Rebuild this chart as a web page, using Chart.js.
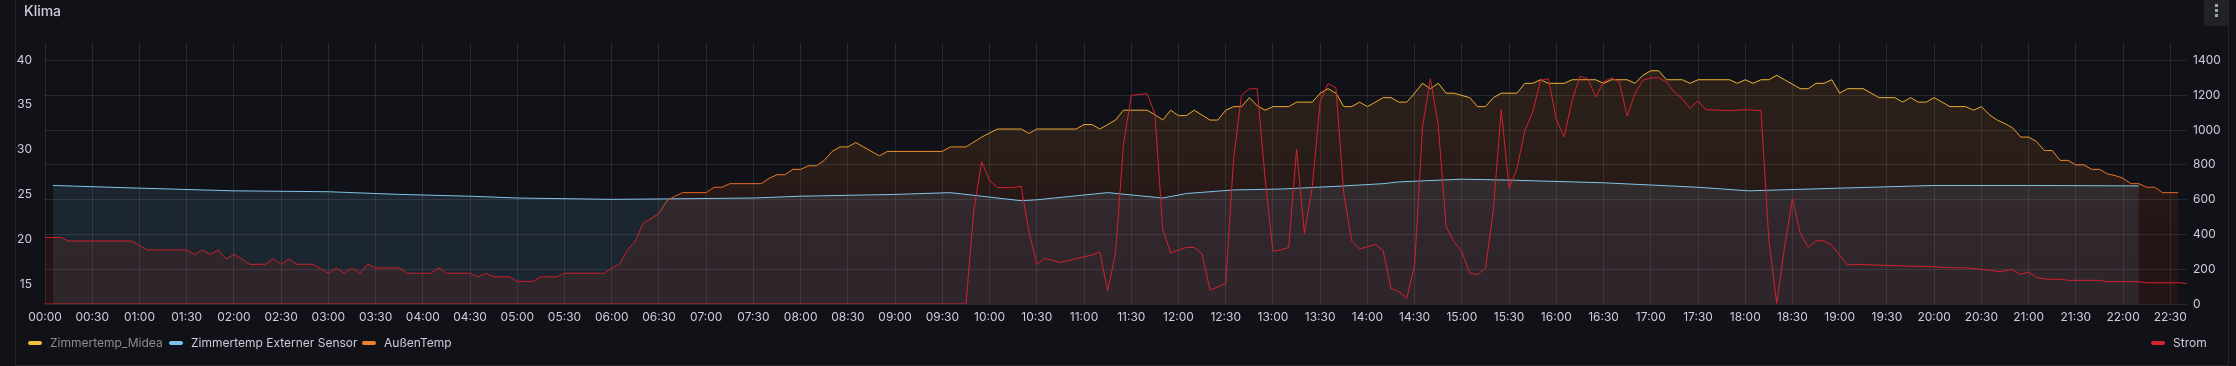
<!DOCTYPE html>
<html>
<head>
<meta charset="utf-8">
<title>Klima</title>
<script src="https://cdn.jsdelivr.net/npm/chart.js@4.4.1/dist/chart.umd.min.js"></script>
<style>
    html, body { margin: 0; padding: 0; background: #111217; width: 2236px; height: 366px; overflow: hidden; font-family: Inter, "Noto Sans", sans-serif; }
    #panel { position: absolute; left: 15px; top: -1px; width: 2214px; height: 367px; border: 1px solid #24262b; box-sizing: border-box; }
    #klimaChart { position: absolute; left: 0; top: 0; }
    .title { position: absolute; left: 24px; top: 3px; font-size: 14px; line-height: 16px; font-weight: 500; color: #ccccdc; }
    .menu { position: absolute; left: 2204px; top: 0; width: 24px; height: 26px; background: #202226; }
    .menu i { position: absolute; left: 11px; width: 3px; height: 3px; background: #9ea3ae; }
    .legend-item { position: absolute; top: 335px; height: 16px; line-height: 16px; font-size: 12px; color: #ccccdc; white-space: nowrap; }
    .legend-item span { display: inline-block; width: 14px; height: 4px; border-radius: 2px; vertical-align: middle; margin-right: 8px; margin-top: -2px; }
    .legend-item.off { color: #8b8c96; }
</style>
</head>
<body>
<div id="panel"></div>
<canvas id="klimaChart" width="2236" height="366"></canvas>
<div class="title">Klima</div>
<div class="menu"><i style="top:4px"></i><i style="top:9px"></i><i style="top:14px"></i></div>

<div class="legend-item off" style="left:28px"><span style="background:#f2c23a"></span>Zimmertemp_Midea</div>
<div class="legend-item" style="left:169px"><span style="background:#80c4e8"></span>Zimmertemp Externer Sensor</div>
<div class="legend-item" style="left:362px"><span style="background:#f0812a"></span>AußenTemp</div>
<div class="legend-item" style="left:2151px"><span style="background:#d4202f"></span>Strom</div>

<script>
// x axis labels (every 30 min)
const timeLabels = ["00:00", "00:30", "01:00", "01:30", "02:00", "02:30", "03:00", "03:30", "04:00", "04:30",
    "05:00", "05:30", "06:00", "06:30", "07:00", "07:30", "08:00", "08:30", "09:00", "09:30",
    "10:00", "10:30", "11:00", "11:30", "12:00", "12:30", "13:00", "13:30", "14:00", "14:30",
    "15:00", "15:30", "16:00", "16:30", "17:00", "17:30", "18:00", "18:30", "19:00", "19:30",
    "20:00", "20:30", "21:00", "21:30", "22:00", "22:30"];
const tempTicks = [15, 20, 25, 30, 35, 40];
const stromTicks = [0, 200, 400, 600, 800, 1000, 1200, 1400];

// Zimmertemp Externer Sensor (°C)
const sensorTimes = ["00:05", "01:00", "02:00", "03:00", "03:45", "04:30", "05:00", "06:00", "06:35", "07:30",
    "08:00", "09:00", "09:35", "10:20", "10:30", "11:15", "11:50", "12:05", "12:35", "13:05",
    "13:40", "14:10", "14:20", "15:00", "15:30", "16:30", "17:00", "17:30", "18:02", "19:00",
    "20:00", "21:00", "22:10"];
const sensorTemp = [26.0, 25.7, 25.4, 25.3, 25.0, 24.8, 24.6, 24.45, 24.5, 24.6,
    24.8, 25.0, 25.2, 24.3, 24.4, 25.2, 24.6, 25.1, 25.5, 25.6,
    25.9, 26.2, 26.4, 26.7, 26.6, 26.3, 26.05, 25.8, 25.4, 25.7,
    26.0, 26.0, 25.95];

// AußenTemp (°C)
const aussenTimes = ["00:00", "00:10", "00:15", "00:55", "01:05", "01:30", "01:35", "01:40", "01:45", "01:50",
    "01:55", "02:00", "02:05", "02:10", "02:20", "02:25", "02:30", "02:35", "02:40", "02:50",
    "03:00", "03:05", "03:10", "03:15", "03:20", "03:25", "03:30", "03:45", "03:50", "04:05",
    "04:10", "04:15", "04:30", "04:35", "04:40", "04:45", "04:55", "05:00", "05:10", "05:15",
    "05:25", "05:30", "05:55", "06:00", "06:05", "06:10", "06:15", "06:20", "06:25", "06:30",
    "06:35", "06:40", "06:45", "07:00", "07:05", "07:10", "07:15", "07:35", "07:40", "07:45",
    "07:50", "07:55", "08:00", "08:05", "08:10", "08:15", "08:20", "08:25", "08:30", "08:35",
    "08:50", "08:55", "09:30", "09:35", "09:45", "09:55", "10:05", "10:20", "10:25", "10:30",
    "10:55", "11:00", "11:05", "11:10", "11:20", "11:25", "11:40", "11:45", "11:50", "11:55",
    "12:00", "12:05", "12:10", "12:20", "12:25", "12:30", "12:35", "12:40", "12:45", "12:50",
    "12:55", "13:00", "13:10", "13:15", "13:25", "13:30", "13:35", "13:40", "13:45", "13:50",
    "13:55", "14:00", "14:10", "14:15", "14:20", "14:25", "14:30", "14:35", "14:40", "14:45",
    "14:50", "14:55", "15:05", "15:10", "15:15", "15:20", "15:25", "15:35", "15:40", "15:45",
    "15:50", "15:55", "16:05", "16:10", "16:25", "16:30", "16:35", "16:45", "16:50", "16:55",
    "17:00", "17:05", "17:10", "17:20", "17:25", "17:30", "17:50", "17:55", "18:00", "18:05",
    "18:10", "18:15", "18:20", "18:25", "18:35", "18:40", "18:45", "18:50", "18:55", "19:00",
    "19:05", "19:15", "19:25", "19:35", "19:40", "19:45", "19:50", "19:55", "20:00", "20:10",
    "20:20", "20:25", "20:30", "20:35", "20:40", "20:45", "20:50", "20:55", "21:00", "21:05",
    "21:10", "21:15", "21:20", "21:25", "21:30", "21:35", "21:40", "21:45", "21:50", "21:55",
    "22:00", "22:05", "22:10", "22:15", "22:20", "22:25", "22:35"];
const aussenTemp = [20.2, 20.2, 19.8, 19.8, 18.8, 18.8, 18.3, 18.8, 18.3, 18.8,
    17.8, 18.3, 17.8, 17.2, 17.2, 17.8, 17.2, 17.8, 17.2, 17.2,
    16.2, 16.8, 16.2, 16.8, 16.2, 17.2, 16.8, 16.8, 16.2, 16.2,
    16.8, 16.2, 16.2, 15.8, 16.2, 15.8, 15.8, 15.3, 15.3, 15.8,
    15.8, 16.2, 16.2, 16.8, 17.2, 18.8, 19.8, 21.8, 22.3, 22.9,
    24.3, 24.8, 25.2, 25.2, 25.8, 25.8, 26.2, 26.2, 26.8, 27.2,
    27.2, 27.8, 27.8, 28.2, 28.2, 28.8, 29.8, 30.3, 30.3, 30.8,
    29.3, 29.8, 29.8, 30.3, 30.3, 31.4, 32.3, 32.3, 31.8, 32.3,
    32.3, 32.8, 32.8, 32.3, 33.3, 34.4, 34.4, 33.9, 33.3, 34.4,
    33.8, 33.8, 34.4, 33.3, 33.3, 34.4, 34.8, 34.8, 35.8, 34.9,
    34.4, 34.8, 34.8, 35.3, 35.3, 36.3, 36.8, 36.3, 34.8, 34.8,
    35.3, 34.8, 35.8, 35.8, 35.3, 35.3, 36.3, 37.4, 36.8, 37.4,
    36.3, 36.3, 35.8, 34.8, 34.8, 35.8, 36.3, 36.3, 37.4, 37.4,
    37.8, 37.4, 37.4, 37.8, 37.8, 37.4, 37.8, 37.8, 37.4, 38.3,
    38.8, 38.8, 37.8, 37.8, 37.4, 37.8, 37.8, 37.4, 37.8, 37.4,
    37.8, 37.8, 38.3, 37.8, 36.8, 36.8, 37.4, 37.4, 37.8, 36.3,
    36.8, 36.8, 35.8, 35.8, 35.3, 35.8, 35.3, 35.3, 35.8, 34.8,
    34.8, 34.4, 34.8, 33.9, 33.3, 32.9, 32.4, 31.4, 31.4, 30.9,
    29.9, 29.9, 28.8, 28.8, 28.3, 28.3, 27.8, 27.8, 27.3, 27.1,
    26.8, 26.2, 26.2, 25.8, 25.8, 25.2, 25.2];

// Strom (W), right axis
const stromTimes = ["00:00", "09:45", "09:50", "09:55", "10:00", "10:05", "10:15", "10:20", "10:25", "10:30",
    "10:35", "10:45", "11:00", "11:05", "11:10", "11:15", "11:20", "11:25", "11:30", "11:40",
    "11:45", "11:50", "11:55", "12:05", "12:10", "12:15", "12:20", "12:25", "12:30", "12:35",
    "12:40", "12:45", "12:50", "12:55", "13:00", "13:05", "13:10", "13:15", "13:20", "13:25",
    "13:30", "13:35", "13:40", "13:45", "13:50", "13:55", "14:05", "14:10", "14:15", "14:20",
    "14:25", "14:30", "14:35", "14:40", "14:45", "14:50", "14:55", "15:00", "15:05", "15:10",
    "15:15", "15:20", "15:25", "15:30", "15:35", "15:40", "15:45", "15:50", "15:55", "16:00",
    "16:05", "16:10", "16:15", "16:20", "16:25", "16:30", "16:35", "16:40", "16:45", "16:50",
    "16:55", "17:00", "17:05", "17:10", "17:15", "17:20", "17:25", "17:30", "17:35", "17:50",
    "18:00", "18:10", "18:15", "18:20", "18:25", "18:30", "18:35", "18:40", "18:45", "18:50",
    "18:55", "19:05", "19:10", "19:35", "20:00", "20:10", "20:20", "20:30", "20:35", "20:42",
    "20:49", "20:55", "21:00", "21:05", "21:12", "21:21", "21:25", "21:45", "21:50", "22:10",
    "22:15", "22:36", "22:41"];
const stromWatt = [0, 0, 539, 818, 711, 669, 669, 677, 415, 228,
    262, 239, 272, 281, 300, 76, 291, 912, 1199, 1209,
    1094, 428, 294, 325, 325, 287, 80, 99, 119, 836,
    1199, 1237, 1237, 721, 304, 310, 325, 889, 405, 673,
    1165, 1266, 1243, 635, 363, 316, 342, 306, 90, 71,
    33, 224, 1017, 1295, 1027, 444, 358, 300, 176, 170,
    205, 539, 1119, 664, 778, 998, 1103, 1285, 1295, 1059,
    960, 1170, 1308, 1295, 1189, 1276, 1300, 1276, 1080, 1209,
    1285, 1300, 1300, 1276, 1218, 1180, 1123, 1167, 1117, 1111,
    1117, 1111, 367, 4, 329, 606, 405, 325, 363, 363,
    338, 224, 228, 220, 214, 208, 208, 199, 195, 185,
    199, 170, 185, 151, 142, 142, 136, 136, 128, 128,
    122, 122, 117];

function toMinutes(t) {
    const p = t.split(":");
    return Number(p[0]) * 60 + Number(p[1]);
}

function points(times, values) {
    return times.map((t, i) => ({ x: toMinutes(t), y: values[i] }));
}

// colour scheme of AußenTemp by temperature: [value, line rgb, fill rgb]
const schemeStops = [
    [13, [200, 28, 40], [180, 40, 8]],
    [22, [206, 34, 40], [185, 45, 10]],
    [25, [226, 96, 32], [205, 80, 25]],
    [28, [236, 128, 40], [222, 115, 35]],
    [32, [236, 160, 46], [225, 127, 40]],
    [38, [240, 180, 50], [230, 135, 42]]
];

function schemeGradient(context, alpha, fillMode) {
    const chart = context.chart;
    if (!chart.chartArea) return fillMode ? "rgba(0,0,0,0)" : "#f0812a";
    const scale = chart.scales.y;
    const lo = schemeStops[0][0];
    const hi = schemeStops[schemeStops.length - 1][0];
    const g = chart.ctx.createLinearGradient(0, scale.getPixelForValue(lo), 0, scale.getPixelForValue(hi));
    schemeStops.forEach(function (s) {
        const c = fillMode ? s[2] : s[1];
        g.addColorStop((s[0] - lo) / (hi - lo), "rgba(" + c.join(",") + "," + alpha + ")");
    });
    return g;
}

const gridColor = "rgba(204,204,220,0.12)";
const textColor = "#ccccdc";
const tickFont = { family: "Inter", size: 12 };

const ctx = document.getElementById("klimaChart").getContext("2d");

new Chart(ctx, {
    type: "line",
    data: {
        datasets: [
            {
                label: "Strom",
                data: points(stromTimes, stromWatt),
                yAxisID: "y1",
                borderColor: "#d4202f",
                borderWidth: 1,
                fill: false,
                order: 0
            },
            {
                label: "AußenTemp",
                data: points(aussenTimes, aussenTemp),
                yAxisID: "y",
                borderColor: function (c) { return schemeGradient(c, 1, false); },
                backgroundColor: function (c) { return schemeGradient(c, 0.12, true); },
                borderWidth: 1,
                fill: "start",
                order: 1
            },
            {
                label: "Zimmertemp Externer Sensor",
                data: points(sensorTimes, sensorTemp),
                yAxisID: "y",
                borderColor: "#80c4e8",
                backgroundColor: "rgba(115,191,240,0.12)",
                borderWidth: 1,
                fill: "start",
                order: 2
            },
            {
                label: "Zimmertemp_Midea",
                data: [],
                yAxisID: "y",
                borderColor: "#f2c23a",
                hidden: true,
                order: 3
            }
        ]
    },
    options: {
        responsive: false,
        animation: false,
        layout: { padding: { left: 15, top: 43, right: 9, bottom: 32 } },
        elements: { point: { radius: 0, hoverRadius: 0 }, line: { tension: 0 } },
        plugins: {
            legend: { display: false },
            tooltip: { enabled: false },
            filler: { drawTime: "beforeDatasetsDraw" }
        },
        scales: {
            x: {
                type: "linear",
                min: 0,
                max: 1360.6,
                afterBuildTicks: function (scale) {
                    scale.ticks = timeLabels.map(t => ({ value: toMinutes(t) }));
                },
                afterFit: function (scale) { scale.height = 30; },
                ticks: {
                    color: textColor,
                    font: tickFont,
                    padding: 6,
                    maxRotation: 0,
                    autoSkip: false,
                    callback: function (value) {
                        const h = Math.floor(value / 60), m = value % 60;
                        return String(h).padStart(2, "0") + ":" + String(m).padStart(2, "0");
                    }
                },
                grid: { color: gridColor, drawTicks: false },
                border: { display: false }
            },
            y: {
                position: "left",
                min: 12.77,
                max: 41.9,
                afterBuildTicks: function (scale) {
                    scale.ticks = tempTicks.map(v => ({ value: v }));
                },
                afterFit: function (scale) { scale.width = 30; },
                ticks: { color: textColor, font: tickFont, padding: 5 },
                grid: { display: false },
                border: { display: false }
            },
            y1: {
                position: "right",
                min: 0,
                max: 1500,
                afterBuildTicks: function (scale) {
                    scale.ticks = stromTicks.map(v => ({ value: v }));
                },
                afterFit: function (scale) { scale.width = 40; },
                ticks: {
                    color: textColor,
                    font: tickFont,
                    padding: 6,
                    callback: function (value) { return String(value); }
                },
                grid: { color: gridColor, drawTicks: false },
                border: { display: false }
            }
        }
    }
});
</script>
</body>
</html>
